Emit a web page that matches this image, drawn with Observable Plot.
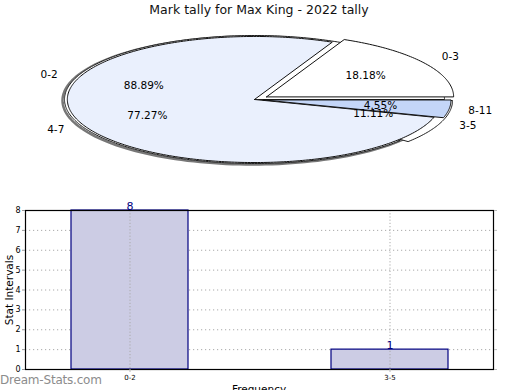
<!DOCTYPE html>
<html><head><meta charset="utf-8">
<script src="https://cdn.jsdelivr.net/npm/d3@7"></script>
<script src="https://cdn.jsdelivr.net/npm/@observablehq/plot@0.6"></script>
<style>
body{margin:0;background:#fff;font-family:"DejaVu Sans",sans-serif;}
#wrap{position:relative;width:520px;height:390px;overflow:hidden;background:#fff}
.abs{position:absolute;white-space:nowrap;color:#000}
.abs svg{overflow:visible}
</style></head><body><div id="wrap"></div>
<script>
// ---- data ----
const title = "Mark tally for Max King - 2022 tally";
const pieALabels = ["0-2", "3-5"];
const pieAValues = [8, 1];
const pieAColors = ["#ffffff", "#ffffff"];
const pieAExplode = [0, 0.045];
const pieBLabels = ["0-3", "4-7", "8-11"];
const pieBValues = [4, 17, 1];
const pieBColors = ["#ffffff", "#eaf0fd", "#c4d6f8"];
const pieBExplode = [0.075, 0, 0.05];
const barCategories = ["0-2", "3-5"];
const barValues = [8, 1];
const yTicks = [0, 1, 2, 3, 4, 5, 6, 7, 8];
const yLabel = "Stat Intervals";
const xLabel = "Frequency";
const watermark = "Dream-Stats.com";

const wrap = document.getElementById("wrap");
function addDiv(text, css) {
  const d = document.createElement("div");
  d.className = "abs"; d.textContent = text;
  Object.assign(d.style, css);
  wrap.appendChild(d);
  return d;
}

// ---- pie ----
const RX = 190, RY = 64;
const pieW = 520, pieH = 175, pieTop = 20;
const cxp = 254, cyp = 99 - pieTop;
const fmt = d3.format(".2f");

function slices(labels, values, colors, explode, scale) {
  const total = d3.sum(values);
  let a = 0;
  return labels.map((lab, i) => {
    const a0 = a, a1 = a + values[i] / total * 360; a = a1;
    const mid = (a0 + a1) / 2 * Math.PI / 180;
    const k = explode[i];
    const ox = k * Math.cos(mid), oy = k * Math.sin(mid);
    const pts = [{x: ox, y: oy}];
    const n = Math.max(2, Math.ceil(a1 - a0));
    for (let j = 0; j <= n; j++) {
      const t = (a0 + (a1 - a0) * j / n) * Math.PI / 180;
      pts.push({x: ox + scale * Math.cos(t), y: oy + scale * Math.sin(t)});
    }
    pts.push({x: ox, y: oy});
    return {label: lab, pct: values[i] / total * 100, color: colors[i], pts, mid, ox, oy};
  });
}
const sA = slices(pieALabels, pieAValues, pieAColors, pieAExplode, 1.0);
const sB = slices(pieBLabels, pieBValues, pieBColors, pieBExplode, 0.985);
const ellipse = d3.range(0, 361, 2).map(t => ({x: Math.cos(t * Math.PI / 180), y: Math.sin(t * Math.PI / 180)}));
const labelRows = [...sA, ...sB].flatMap(s => [
  {x: s.ox + 1.15 * Math.cos(s.mid), y: s.oy + 1.15 * Math.sin(s.mid), t: s.label},
  {x: s.ox + 0.62 * Math.cos(s.mid), y: s.oy + 0.62 * Math.sin(s.mid), t: fmt(s.pct) + "%"}
]);

const pie = Plot.plot({
  width: pieW, height: pieH, margin: 0,
  style: {background: "transparent", fontFamily: "DejaVu Sans", fontSize: "10.5px", color: "black"},
  x: {axis: null, domain: [-cxp / RX, (pieW - cxp) / RX]},
  y: {axis: null, domain: [-(pieH - cyp) / RY, cyp / RY]},
  marks: [
    Plot.line(ellipse, {x: "x", y: "y", stroke: "#777", strokeWidth: 2.5, dx: -2, dy: 1}),
    ...sA.map(s => Plot.line(s.pts, {x: "x", y: "y", fill: s.color, stroke: "#222", strokeWidth: 1})),
    ...sB.map(s => Plot.line(s.pts, {x: "x", y: "y", fill: s.color, stroke: "#111", strokeWidth: 1})),
    Plot.text(labelRows, {x: "x", y: "y", text: "t", fill: "black"})
  ]
});
const pieDiv = document.createElement("div");
pieDiv.className = "abs"; pieDiv.style.left = "0px"; pieDiv.style.top = pieTop + "px";
pieDiv.appendChild(pie); wrap.appendChild(pieDiv);

addDiv(title, {left: "259px", top: "2px", transform: "translateX(-50%)", fontSize: "12.5px", color: "#111"});

// ---- bar chart ----
const bars = barCategories.map((c, i) => ({c, v: barValues[i]}));
const bar = Plot.plot({
  width: 520, height: 200,
  marginLeft: 25, marginRight: 27, marginTop: 10, marginBottom: 31,
  style: {background: "transparent", fontFamily: "DejaVu Sans", fontSize: "8px", color: "black"},
  x: {domain: barCategories, paddingInner: 0.55, paddingOuter: 0.175, label: null},
  y: {domain: [0, 8], label: null},
  marks: [
    Plot.gridY(yTicks.slice(1, -1), {stroke: "#aaa", strokeOpacity: 1, strokeDasharray: "1.2,2.8"}),
    Plot.barY(bars, {x: "c", y: "v", fill: "#ccccE4", stroke: "#000080", strokeWidth: 1.2}),
    Plot.gridX(barCategories, {stroke: "#aaa", strokeOpacity: 1, strokeDasharray: "1.2,2"}),
    Plot.frame({stroke: "black", strokeWidth: 1.2}),
    Plot.axisY(yTicks, {tickSize: 3, tickPadding: 2, stroke: "#999", fill: "black", label: null}),
    Plot.axisY(yTicks, {anchor: "right", tickSize: 3, stroke: "#bbb", fill: "none", label: null}),
    Plot.axisX(barCategories, {tickSize: 3, tickPadding: 3, stroke: "#bbb", fill: "black", label: null, fontSize: 7}),
    Plot.text(bars, {x: "c", y: "v", text: d => String(d.v), lineAnchor: "bottom", dy: -1, fill: "#000080", fontSize: 11})
  ]
});
const barDiv = document.createElement("div");
barDiv.className = "abs"; barDiv.style.left = "0px"; barDiv.style.top = "200px";
barDiv.appendChild(bar); wrap.appendChild(barDiv);

addDiv(yLabel, {left: "9px", top: "290px", transform: "translate(-50%,-50%) rotate(-90deg)", fontSize: "10.5px"});
addDiv(xLabel, {left: "259px", top: "383px", transform: "translateX(-50%)", fontSize: "10.5px"});
addDiv(watermark, {left: "0px", top: "373px", fontSize: "12px", color: "#8c8c8c", letterSpacing: "-0.2px"});
</script></body></html>
